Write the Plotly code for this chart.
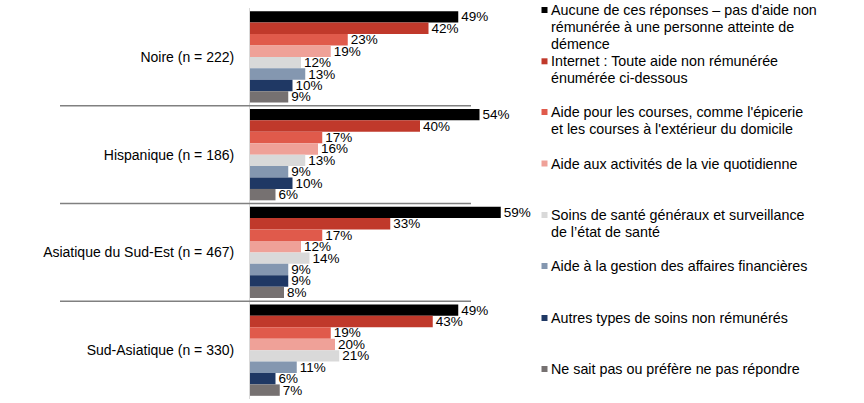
import plotly.graph_objects as go

categories = ["Noire (n = 222)", "Hispanique (n = 186)",
              "Asiatique du Sud-Est (n = 467)", "Sud-Asiatique (n = 330)"]

series_names = [
    "Aucune de ces réponses – pas d'aide non<br>rémunérée à une personne atteinte de<br>démence",
    "Internet : Toute aide non rémunérée<br>énumérée ci-dessous",
    "Aide pour les courses, comme l'épicerie<br>et les courses à l'extérieur du domicile",
    "Aide aux activités de la vie quotidienne",
    "Soins de santé généraux et surveillance<br>de l’état de santé",
    "Aide à la gestion des affaires financières",
    "Autres types de soins non rémunérés",
    "Ne sait pas ou préfère ne pas répondre",
]

aucune = [49, 54, 59, 49]
internet = [42, 40, 33, 43]
courses = [23, 17, 17, 19]
activites = [19, 16, 12, 20]
soins_sante = [12, 13, 14, 21]
finances = [13, 9, 9, 11]
autres = [10, 10, 9, 6]
ne_sait_pas = [9, 6, 8, 7]

series_values = [aucune, internet, courses, activites, soins_sante, finances, autres, ne_sait_pas]

colors = ["#000000", "#C0392B", "#E05A4B", "#EFA198",
          "#D9D9D9", "#8497B0", "#1F3864", "#767171"]

W, H = 864, 403
L, R, T, B = 250, 334, 8, 4
plot_w = W - L - R
plot_h = H - T - B
px_per_pct = 4.25
x_max = plot_w / px_per_pct

def px_to_paper_x(px):
    return (px - L) / plot_w

def px_to_paper_y(py):
    return (H - B - py) / plot_h

fig = go.Figure()
for name, vals, col in zip(series_names, series_values, colors):
    fig.add_trace(go.Bar(
        y=categories, x=vals, orientation="h", name=name,
        marker=dict(color=col, line=dict(width=0)),
        texttemplate="%{x}%", textposition="outside",
        textfont=dict(size=13.5, color="#000000", family="Liberation Sans, Arial"),
        cliponaxis=False, constraintext="none", showlegend=False,
        hoverinfo="skip",
    ))

# separator lines between categories
for yb in [0.5, 1.5, 2.5]:
    fig.add_shape(type="line", xref="paper", yref="y",
                  x0=px_to_paper_x(60), x1=px_to_paper_x(471), y0=yb, y1=yb,
                  line=dict(color="#808080", width=1.3))

# manual legend
legend_first_y = [10, 61.3, 112, 163.5, 215, 266, 318, 369]
line_h = 17
for name, col, y0 in zip(series_names, colors, legend_first_y):
    fig.add_shape(type="rect", xref="paper", yref="paper",
                  x0=px_to_paper_x(541.5), x1=px_to_paper_x(547.5),
                  y0=px_to_paper_y(y0 - 3), y1=px_to_paper_y(y0 + 3),
                  fillcolor=col, line=dict(width=0))
    for i, line in enumerate(name.split("<br>")):
        fig.add_annotation(xref="paper", yref="paper",
                           x=px_to_paper_x(549), y=px_to_paper_y(y0 + i * line_h),
                           xanchor="left", yanchor="middle", showarrow=False,
                           text=line,
                           font=dict(size=14.3, color="#000000", family="Liberation Sans, Arial"))

fig.update_layout(
    width=W, height=H,
    margin=dict(l=L, r=R, t=T, b=B),
    barmode="group", bargap=0.065, bargroupgap=0,
    plot_bgcolor="white", paper_bgcolor="white",
    font=dict(family="Liberation Sans, Arial", size=14, color="#000000"),
    xaxis=dict(range=[0, x_max], visible=False, fixedrange=True),
    yaxis=dict(autorange="reversed", showline=True, linecolor="#D9D9D9", linewidth=1,
               ticks="", showgrid=False, ticklabelstandoff=12, fixedrange=True,
               tickfont=dict(size=14, color="#000000")),
)

fig.write_html("out.html", config={"displayModeBar": False},
               post_script="document.body.style.margin='0';document.body.style.overflow='hidden';")
